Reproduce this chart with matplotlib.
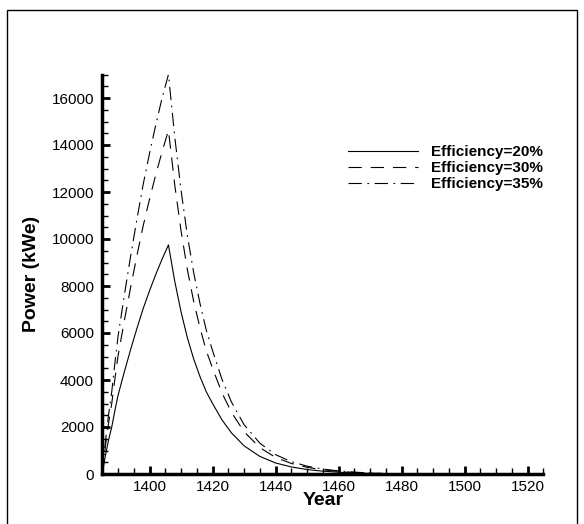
import matplotlib.pyplot as plt
from matplotlib.patches import Rectangle
from matplotlib.ticker import MultipleLocator

plt.rcParams['font.family'] = ['Liberation Sans', 'DejaVu Sans']

years = [1385, 1386, 1387, 1388, 1389, 1390, 1392, 1394, 1396, 1398, 1400,
         1402, 1404, 1406, 1408, 1410, 1412, 1414, 1416, 1418, 1420, 1423,
         1426, 1430, 1435, 1440, 1445, 1450, 1455, 1460, 1465, 1470, 1475]

eff20 = [0, 800, 1450, 2000, 2700, 3350, 4350, 5300, 6200, 7050, 7800,
         8500, 9150, 9750, 8200, 6900, 5800, 4900, 4150, 3500, 3000, 2300,
         1750, 1200, 750, 470, 300, 190, 120, 75, 45, 25, 10]
eff30 = [0, 1200, 2175, 3000, 4050, 5025, 6525, 7950, 9300, 10575, 11700,
         12750, 13725, 14625, 12300, 10350, 8700, 7350, 6225, 5250, 4500, 3450,
         2625, 1800, 1125, 705, 450, 285, 180, 113, 68, 38, 15]
eff35 = [0, 1400, 2538, 3500, 4725, 5863, 7613, 9275, 10850, 12338, 13650,
         14875, 16013, 17000, 14350, 12075, 10150, 8575, 7263, 6125, 5250, 4025,
         3063, 2100, 1313, 823, 525, 333, 210, 131, 79, 44, 18]

labels = ['Efficiency=20%', 'Efficiency=30%', 'Efficiency=35%']

fig = plt.figure(figsize=(5.84, 5.24), dpi=100)
# page frame, its lower edge sits just below the canvas
fig.patches.append(Rectangle((7 / 584, -5 / 524), 570 / 584, 519 / 524,
                             transform=fig.transFigure, fill=False,
                             edgecolor='black', linewidth=1))

ax = fig.add_axes([102.3 / 584, 50 / 524, 441 / 584, 399.5 / 524])

ax.plot(years, eff20, color='black', lw=0.8, label=labels[0], clip_on=False)
ax.plot(years, eff30, color='black', lw=0.8, dashes=(12, 8), label=labels[1], clip_on=False)
ax.plot(years, eff35, color='black', lw=0.8, dashes=(12, 5, 1.5, 5), label=labels[2], clip_on=False)

ax.set_xlim(1385, 1525)
ax.set_ylim(0, 17000)
ax.xaxis.set_major_locator(MultipleLocator(20))
ax.xaxis.set_minor_locator(MultipleLocator(5))
ax.yaxis.set_major_locator(MultipleLocator(2000))
ax.yaxis.set_minor_locator(MultipleLocator(500))

for side in ['top', 'right']:
    ax.spines[side].set_visible(False)
for side in ['left', 'bottom']:
    ax.spines[side].set_linewidth(2.5)

ax.tick_params(which='major', direction='in', length=6, width=2, labelsize=11, pad=4)
ax.tick_params(which='minor', direction='in', length=4, width=1)
ax.tick_params(axis='y', which='major', pad=6)

ax.set_xlabel('Year', fontsize=14, fontweight='bold', labelpad=-1)
ax.set_ylabel('Power (kWe)', fontsize=14, fontweight='bold', labelpad=8)

leg = ax.legend(loc='upper left', bbox_to_anchor=(0.526, 0.857), frameon=False,
                handlelength=4.6, handletextpad=0.8, labelspacing=0.12,
                prop={'weight': 'bold', 'size': 11})

fig.savefig('out.png', dpi=100)
